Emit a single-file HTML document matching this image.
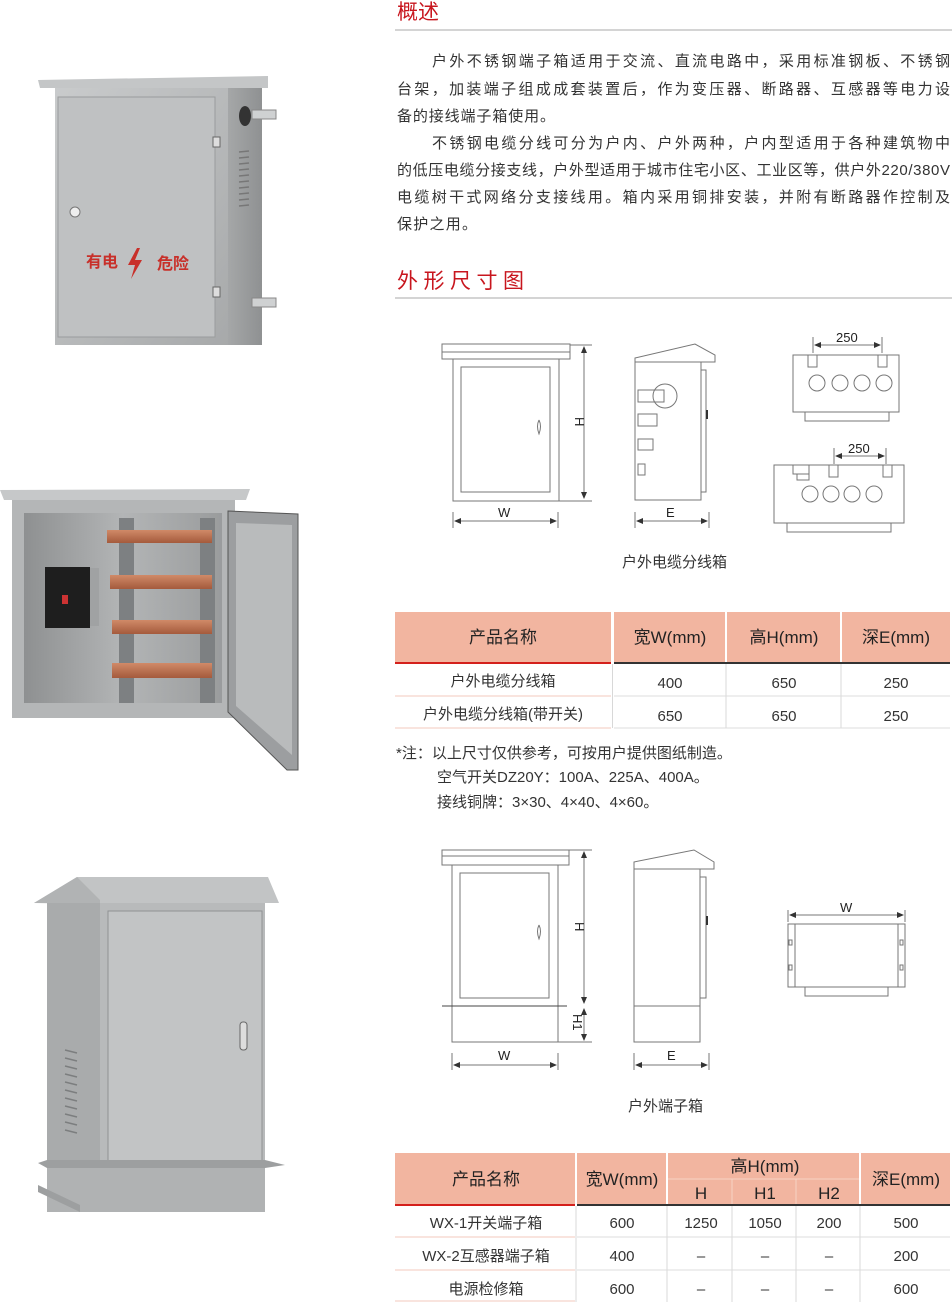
<!DOCTYPE html>
<html><head><meta charset="utf-8"><style>
html,body{margin:0;padding:0;background:#fff}
svg{display:block}
text{font-family:"Liberation Sans","Noto Sans CJK SC",sans-serif}
</style></head><body>
<svg width="952" height="1302" viewBox="0 0 952 1302" xmlns="http://www.w3.org/2000/svg">
<defs>
<linearGradient id="steel" x1="0" y1="0" x2="1" y2="1"><stop offset="0" stop-color="#c9cbcc"/><stop offset="0.5" stop-color="#b8babb"/><stop offset="1" stop-color="#a7a9aa"/></linearGradient>
<linearGradient id="steelD" x1="0" y1="0" x2="1" y2="0"><stop offset="0" stop-color="#a5a7a8"/><stop offset="1" stop-color="#8f9192"/></linearGradient>
<linearGradient id="inner" x1="0" y1="0" x2="1" y2="0"><stop offset="0" stop-color="#8e9091"/><stop offset="0.5" stop-color="#b3b5b6"/><stop offset="1" stop-color="#9a9c9d"/></linearGradient>
<linearGradient id="cu" x1="0" y1="0" x2="0" y2="1"><stop offset="0" stop-color="#d08a68"/><stop offset="1" stop-color="#a45a3c"/></linearGradient>
</defs>

<!-- Photo 1 -->
<polygon points="38,80 268,76 268,88 40,88" fill="#c4c6c7"/>
<rect x="55" y="88" width="173" height="257" fill="url(#steel)"/>
<rect x="58" y="97" width="157" height="240" fill="#bfc1c2" stroke="#9a9c9d"/>
<rect x="228" y="88" width="34" height="257" fill="url(#steelD)"/>
<ellipse cx="245" cy="116" rx="6" ry="10" fill="#333"/>
<rect x="252" y="110" width="24" height="9" fill="#cfd1d2" stroke="#888"/>
<rect x="252" y="298" width="24" height="9" fill="#cfd1d2" stroke="#888"/>
<g stroke="#777" stroke-width="1.5"><line x1="239" y1="152" x2="249" y2="151"/><line x1="239" y1="158" x2="249" y2="157"/><line x1="239" y1="164" x2="249" y2="163"/><line x1="239" y1="170" x2="249" y2="169"/><line x1="239" y1="176" x2="249" y2="175"/><line x1="239" y1="182" x2="249" y2="181"/><line x1="239" y1="188" x2="249" y2="187"/><line x1="239" y1="194" x2="249" y2="193"/><line x1="239" y1="200" x2="249" y2="199"/><line x1="239" y1="206" x2="249" y2="205"/></g>
<rect x="213" y="137" width="7" height="10" fill="#ddd" stroke="#666"/><rect x="213" y="287" width="7" height="10" fill="#ddd" stroke="#666"/>
<circle cx="75" cy="212" r="5" fill="#eee" stroke="#777"/>
<text x="86" y="267" font-size="16" font-weight="bold" fill="#c8302a">有电</text>
<polygon points="137,248 128,265 135,265 131,279 142,260 135,260 140,248" fill="#c8302a"/>
<text x="157" y="269" font-size="16" font-weight="bold" fill="#c8302a">危险</text>

<!-- Photo 2 -->
<polygon points="0,490 250,489 246,500 4,500" fill="#c6c8c9"/>
<rect x="12" y="500" width="223" height="218" fill="#b4b6b7"/>
<rect x="24" y="513" width="198" height="190" fill="url(#inner)"/>
<rect x="119" y="518" width="15" height="185" fill="#7d8082"/>
<rect x="200" y="518" width="15" height="185" fill="#7d8082"/>
<rect x="45" y="567" width="45" height="61" fill="#1e1e1e"/><rect x="90" y="568" width="9" height="58" fill="#a0a2a3"/>
<rect x="62" y="595" width="6" height="9" fill="#c33"/>
<rect x="107" y="530" width="105" height="13" fill="url(#cu)"/>
<rect x="110" y="575" width="102" height="14" fill="url(#cu)"/>
<rect x="112" y="620" width="100" height="14" fill="url(#cu)"/>
<rect x="112" y="663" width="100" height="15" fill="url(#cu)"/>
<polygon points="228,511 298,514 298,770 287,770 228,712" fill="#9c9ea0" stroke="#555"/>
<polygon points="236,523 292,525 292,755 236,706" fill="#b9bbbc"/>

<!-- Photo 3 -->
<polygon points="34,903 77,877 268,877 279,903" fill="#c2c4c5"/>
<polygon points="34,903 77,877 100,900 100,904" fill="#b1b3b4"/>
<rect x="47" y="903" width="53" height="262" fill="#a9abac"/>
<rect x="100" y="903" width="165" height="262" fill="#b8babb"/>
<rect x="108" y="911" width="154" height="256" fill="#c2c4c5" stroke="#909293"/>
<g stroke="#7c7e7f" stroke-width="1.5"><line x1="65" y1="1050" x2="77" y2="1053"/><line x1="65" y1="1058" x2="77" y2="1061"/><line x1="65" y1="1066" x2="77" y2="1069"/><line x1="65" y1="1074" x2="77" y2="1077"/><line x1="65" y1="1082" x2="77" y2="1085"/><line x1="65" y1="1090" x2="77" y2="1093"/><line x1="65" y1="1098" x2="77" y2="1101"/><line x1="65" y1="1106" x2="77" y2="1109"/><line x1="65" y1="1114" x2="77" y2="1117"/><line x1="65" y1="1122" x2="77" y2="1125"/><line x1="65" y1="1130" x2="77" y2="1133"/></g>
<rect x="240" y="1022" width="7" height="28" rx="3" fill="#ddd" stroke="#666"/>
<polygon points="38,1163 47,1160 265,1160 285,1165 265,1168 47,1168" fill="#9d9fa0"/>
<rect x="47" y="1168" width="218" height="44" fill="#b0b2b3"/>
<polygon points="38,1185 80,1205 80,1212 38,1192" fill="#9d9fa0"/>

<!-- Headings -->
<text x="397" y="19" font-size="21" fill="#c8161e">概述</text>
<line x1="395" y1="30" x2="952" y2="30" stroke="#aaa"/>
<g font-size="15" fill="#333">
<text x="432" y="66" textLength="518" lengthAdjust="spacing">户外不锈钢端子箱适用于交流、直流电路中，采用标准钢板、不锈钢</text>
<text x="397" y="94" textLength="553" lengthAdjust="spacing">台架，加装端子组成成套装置后，作为变压器、断路器、互感器等电力设</text>
<text x="397" y="121" textLength="158" lengthAdjust="spacing">备的接线端子箱使用。</text>
<text x="432" y="148" textLength="518" lengthAdjust="spacing">不锈钢电缆分线可分为户内、户外两种，户内型适用于各种建筑物中</text>
<text x="397" y="175" textLength="553" lengthAdjust="spacing">的低压电缆分接支线，户外型适用于城市住宅小区、工业区等，供户外220/380V</text>
<text x="397" y="202" textLength="553" lengthAdjust="spacing">电缆树干式网络分支接线用。箱内采用铜排安装，并附有断路器作控制及</text>
<text x="397" y="229" textLength="80" lengthAdjust="spacing">保护之用。</text>
</g>
<text x="397" y="288" font-size="21" fill="#c8161e" textLength="127" lengthAdjust="spacing">外形尺寸图</text>
<line x1="395" y1="298" x2="952" y2="298" stroke="#aaa"/>

<!-- Diagram 1 -->
<g fill="none" stroke="#777" stroke-width="1">
<rect x="442" y="344" width="128" height="15"/><line x1="442" y1="352" x2="570" y2="352"/>
<rect x="453" y="359" width="106" height="142"/>
<rect x="461" y="367" width="89" height="125"/>
<path d="M539 420 q-3 6 0 14 q3-8 0-14"/>
<line x1="570" y1="345" x2="592" y2="345"/><line x1="559" y1="501" x2="592" y2="501"/>
<line x1="584" y1="348" x2="584" y2="497"/>
<line x1="453" y1="512" x2="453" y2="528"/><line x1="558" y1="512" x2="558" y2="528"/><line x1="456" y1="521" x2="555" y2="521"/>
<polygon points="635,358 695,344 715,355 715,362 635,362"/>
<rect x="635" y="362" width="66" height="138"/>
<rect x="701" y="370" width="5" height="122"/>
<rect x="638" y="390" width="26" height="12"/><rect x="638" y="414" width="19" height="12"/><rect x="638" y="439" width="15" height="11"/><rect x="638" y="464" width="7" height="11"/>
<circle cx="665" cy="396" r="12"/>
<line x1="635" y1="512" x2="635" y2="528"/><line x1="709" y1="512" x2="709" y2="528"/><line x1="638" y1="521" x2="706" y2="521"/>
<rect x="793" y="355" width="106" height="57"/><rect x="805" y="412" width="84" height="9"/>
<rect x="808" y="355" width="9" height="12"/><rect x="878" y="355" width="9" height="12"/>
<circle cx="817" cy="383" r="8"/><circle cx="840" cy="383" r="8"/><circle cx="862" cy="383" r="8"/><circle cx="884" cy="383" r="8"/>
<line x1="813" y1="337" x2="813" y2="353"/><line x1="882" y1="337" x2="882" y2="353"/><line x1="816" y1="345" x2="879" y2="345"/>
<rect x="774" y="465" width="130" height="58"/><rect x="787" y="523" width="104" height="9"/>
<rect x="793" y="465" width="16" height="9"/><rect x="797" y="474" width="12" height="6"/>
<rect x="829" y="465" width="9" height="12"/><rect x="883" y="465" width="9" height="12"/>
<circle cx="810" cy="494" r="8"/><circle cx="831" cy="494" r="8"/><circle cx="852" cy="494" r="8"/><circle cx="874" cy="494" r="8"/>
<line x1="834" y1="448" x2="834" y2="464"/><line x1="886" y1="448" x2="886" y2="464"/><line x1="837" y1="456" x2="883" y2="456"/>
</g>
<g fill="#333">
<polygon points="584,346 581,353 587,353"/><polygon points="584,499 581,492 587,492"/>
<polygon points="454,521 461,518 461,524"/><polygon points="557,521 550,518 550,524"/>
<polygon points="636,521 643,518 643,524"/><polygon points="708,521 701,518 701,524"/>
<polygon points="814,345 821,342 821,348"/><polygon points="881,345 874,342 874,348"/>
<polygon points="835,456 842,453 842,459"/><polygon points="885,456 878,453 878,459"/>
<rect x="706" y="410" width="2" height="9"/>
</g>
<g font-size="13" fill="#222">
<text x="498" y="517">W</text><text x="666" y="517">E</text>
<text x="571" y="421" transform="rotate(90 575 421)">H</text>
<text x="836" y="342">250</text><text x="848" y="453">250</text>
</g>
<text x="622" y="567" font-size="15" fill="#333">户外电缆分线箱</text>

<!-- Table 1 -->
<rect x="395" y="612" width="216" height="50" fill="#f2b5a0"/>
<rect x="614" y="612" width="111" height="50" fill="#f2b5a0"/>
<rect x="727" y="612" width="113" height="50" fill="#f2b5a0"/>
<rect x="842" y="612" width="108" height="50" fill="#f2b5a0"/>
<rect x="395" y="662" width="216" height="2" fill="#d4201c"/>
<rect x="614" y="662" width="336" height="2" fill="#333"/>
<g stroke="#d8d8d8"><line x1="612.5" y1="664" x2="612.5" y2="728"/><line x1="726" y1="664" x2="726" y2="728"/><line x1="841" y1="664" x2="841" y2="728"/></g>
<line x1="395" y1="696" x2="611" y2="696" stroke="#f3c8bc"/><line x1="614" y1="696" x2="950" y2="696" stroke="#ddd"/>
<line x1="395" y1="728" x2="611" y2="728" stroke="#f3c8bc"/><line x1="614" y1="728" x2="950" y2="728" stroke="#ddd"/>
<g font-size="17" fill="#222" text-anchor="middle">
<text x="503" y="643">产品名称</text><text x="670" y="643">宽W(mm)</text><text x="784" y="643">高H(mm)</text><text x="896" y="643">深E(mm)</text>
</g>
<g font-size="15" fill="#333" text-anchor="middle">
<text x="503" y="686">户外电缆分线箱</text><text x="670" y="688">400</text><text x="784" y="688">650</text><text x="896" y="688">250</text>
<text x="503" y="719">户外电缆分线箱(带开关)</text><text x="670" y="721">650</text><text x="784" y="721">650</text><text x="896" y="721">250</text>
</g>
<g font-size="15" fill="#333">
<text x="396" y="758">*注：以上尺寸仅供参考，可按用户提供图纸制造。</text>
<text x="437" y="782">空气开关DZ20Y：100A、225A、400A。</text>
<text x="437" y="807">接线铜牌：3×30、4×40、4×60。</text>
</g>

<!-- Diagram 2 -->
<g fill="none" stroke="#777" stroke-width="1">
<rect x="442" y="850" width="127" height="15"/><line x1="442" y1="856" x2="569" y2="856"/>
<rect x="452" y="865" width="106" height="177"/>
<rect x="460" y="873" width="89" height="125"/>
<line x1="442" y1="1006" x2="567" y2="1006" stroke="#444"/>
<path d="M539 925 q-3 6 0 14 q3-8 0-14"/>
<line x1="569" y1="850" x2="592" y2="850"/><line x1="558" y1="1042" x2="592" y2="1042"/>
<line x1="584" y1="853" x2="584" y2="1003"/><line x1="584" y1="1009" x2="584" y2="1040"/>
<line x1="452" y1="1053" x2="452" y2="1070"/><line x1="558" y1="1053" x2="558" y2="1070"/><line x1="455" y1="1065" x2="555" y2="1065"/>
<polygon points="634,862 694,850 714,862 714,869 634,869"/>
<rect x="634" y="869" width="66" height="173"/><line x1="634" y1="1006" x2="700" y2="1006"/>
<rect x="700" y="877" width="6" height="121"/>
<line x1="634" y1="1053" x2="634" y2="1070"/><line x1="709" y1="1053" x2="709" y2="1070"/><line x1="637" y1="1065" x2="706" y2="1065"/>
<rect x="788" y="924" width="117" height="63"/><line x1="795" y1="924" x2="795" y2="987"/><line x1="898" y1="924" x2="898" y2="987"/>
<rect x="805" y="987" width="83" height="9"/>
<rect x="789" y="940" width="3" height="5"/><rect x="789" y="965" width="3" height="5"/><rect x="900" y="940" width="3" height="5"/><rect x="900" y="965" width="3" height="5"/>
<line x1="788" y1="910" x2="788" y2="922"/><line x1="905" y1="910" x2="905" y2="922"/><line x1="791" y1="915" x2="902" y2="915"/>
</g>
<g fill="#333">
<polygon points="584,851 581,858 587,858"/><polygon points="584,1004 581,997 587,997"/>
<polygon points="584,1008 581,1015 587,1015"/><polygon points="584,1041 581,1034 587,1034"/>
<polygon points="453,1065 460,1062 460,1068"/><polygon points="557,1065 550,1062 550,1068"/>
<polygon points="635,1065 642,1062 642,1068"/><polygon points="708,1065 701,1062 701,1068"/>
<polygon points="789,915 796,912 796,918"/><polygon points="904,915 897,912 897,918"/>
<rect x="706" y="916" width="2" height="9"/>
</g>
<g font-size="13" fill="#222">
<text x="498" y="1060">W</text><text x="667" y="1060">E</text><text x="840" y="912">W</text>
<text x="571" y="926" transform="rotate(90 575 926)">H</text>
<text x="566" y="1021" transform="rotate(90 573 1021)">H1</text>
</g>
<text x="628" y="1111" font-size="15" fill="#333">户外端子箱</text>

<!-- Table 2 -->
<rect x="395" y="1153" width="180" height="51" fill="#f2b5a0"/>
<rect x="577" y="1153" width="89" height="51" fill="#f2b5a0"/>
<rect x="668" y="1153" width="191" height="51" fill="#f2b5a0"/>
<rect x="861" y="1153" width="89" height="51" fill="#f2b5a0"/>
<g stroke="#f7d2c5"><line x1="668" y1="1179" x2="859" y2="1179"/><line x1="732" y1="1179" x2="732" y2="1204"/><line x1="796" y1="1179" x2="796" y2="1204"/></g>
<rect x="395" y="1204" width="180" height="2" fill="#d4201c"/>
<rect x="577" y="1204" width="373" height="2" fill="#333"/>
<g stroke="#d8d8d8"><line x1="576" y1="1206" x2="576" y2="1302"/><line x1="667" y1="1206" x2="667" y2="1302"/><line x1="732" y1="1206" x2="732" y2="1302"/><line x1="796" y1="1206" x2="796" y2="1302"/><line x1="860" y1="1206" x2="860" y2="1302"/></g>
<g stroke="#ddd"><line x1="577" y1="1237" x2="950" y2="1237"/><line x1="577" y1="1270" x2="950" y2="1270"/></g>
<g stroke="#f3c8bc"><line x1="395" y1="1237" x2="575" y2="1237"/><line x1="395" y1="1270" x2="575" y2="1270"/><line x1="395" y1="1301" x2="575" y2="1301"/></g>
<g font-size="17" fill="#222" text-anchor="middle">
<text x="486" y="1185">产品名称</text><text x="622" y="1185">宽W(mm)</text><text x="765" y="1172">高H(mm)</text><text x="906" y="1185">深E(mm)</text>
<text x="701" y="1199">H</text><text x="765" y="1199">H1</text><text x="829" y="1199">H2</text>
</g>
<g font-size="15" fill="#333" text-anchor="middle">
<text x="486" y="1228">WX-1开关端子箱</text><text x="622" y="1228">600</text><text x="701" y="1228">1250</text><text x="765" y="1228">1050</text><text x="829" y="1228">200</text><text x="906" y="1228">500</text>
<text x="486" y="1261">WX-2互感器端子箱</text><text x="622" y="1261">400</text><text x="701" y="1261">–</text><text x="765" y="1261">–</text><text x="829" y="1261">–</text><text x="906" y="1261">200</text>
<text x="486" y="1294">电源检修箱</text><text x="622" y="1294">600</text><text x="701" y="1294">–</text><text x="765" y="1294">–</text><text x="829" y="1294">–</text><text x="906" y="1294">600</text>
</g>
</svg>
</body></html>
